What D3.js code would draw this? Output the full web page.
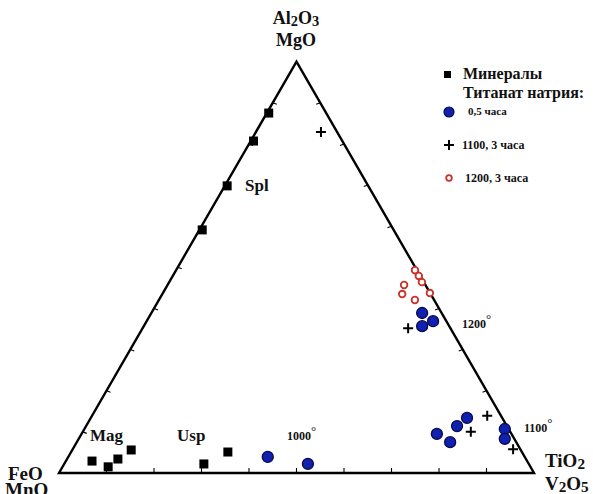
<!DOCTYPE html>
<html><head><meta charset="utf-8">
<script src="https://cdn.jsdelivr.net/npm/d3@7"></script>
<style>body{margin:0;background:#fff}svg{display:block}text{font-family:"Liberation Serif","DejaVu Serif",serif;font-weight:bold;fill:#111}</style>
</head><body><svg id="c" width="593" height="494"></svg>
<script>
// Ternary values as fractions: A = Al2O3+MgO (top), T = TiO2+V2O5 (right), rest = FeO+MnO (left)
const mineralsA = [0.875,0.807,0.698,0.591,0.029,0.015,0.034,0.056,0.022,0.051];
const mineralsT = [0.004,0.006,0.005,0.006,0.055,0.096,0.107,0.124,0.294,0.330];
const blueA = [0.039,0.022,0.095,0.075,0.114,0.134,0.107,0.083,0.389,0.369,0.357];
const blueT = [0.420,0.513,0.748,0.786,0.781,0.792,0.885,0.897,0.570,0.603,0.586];
const crossA = [0.829,0.352,0.139,0.100,0.058];
const crossT = [0.137,0.559,0.832,0.817,0.927];
const redA = [0.493,0.479,0.464,0.457,0.4375,0.435,0.4205];
const redT = [0.503,0.518,0.532,0.498,0.562,0.505,0.539];
const tickFractions = [0.1,0.2,0.3,0.4,0.5,0.6,0.7,0.8,0.9];
const legendLabels = ["Минералы","Титанат натрия:","0,5 часа","1100, 3 часа","1200, 3 часа"];
const fieldLabels = ["Mag","Usp","Spl"];
const tempLabels = ["1000","1100","1200"];

const svg = d3.select("#c");
const xL = 59, xR = 534, yB = 473;
const side = xR - xL, h = side*Math.sqrt(3)/2;
const sx = d3.scaleLinear().domain([0,1]).range([xL,xR]);
const sy = d3.scaleLinear().domain([0,1]).range([yB,yB-h]);
const px = (a,t)=>sx(t + a/2), py = a=>sy(a);

// triangle
svg.append("path")
  .attr("d", d3.line()([[px(0,0),py(0)],[px(0,1),py(0)],[px(1,0),py(1)]]) + "Z")
  .attr("fill","none").attr("stroke","#000").attr("stroke-width",2.4).attr("stroke-linejoin","miter");

// ticks
const tk = svg.append("g").attr("stroke","#000").attr("stroke-width",1.1);
tickFractions.forEach(f=>{
  tk.append("line").attr("x1",px(0,f)).attr("x2",px(0,f)).attr("y1",py(0)).attr("y2",py(0)-5);
  tk.append("line").attr("x1",px(f,0)).attr("x2",px(f,0)+4).attr("y1",py(f)).attr("y2",py(f)+1.5);
  tk.append("line").attr("x1",px(f,1-f)).attr("x2",px(f,1-f)-4).attr("y1",py(f)).attr("y2",py(f)+1.5);
});

// minerals (squares)
svg.append("g").selectAll("rect").data(d3.range(mineralsA.length)).join("rect")
  .attr("x",i=>px(mineralsA[i],mineralsT[i])-4.5).attr("y",i=>py(mineralsA[i])-4.5)
  .attr("width",9).attr("height",9).attr("fill","#000");

// blue circles
svg.append("g").selectAll("circle").data(d3.range(blueA.length)).join("circle")
  .attr("cx",i=>px(blueA[i],blueT[i])).attr("cy",i=>py(blueA[i])).attr("r",5.5)
  .attr("fill","#1020b0").attr("stroke","#0a0a4a").attr("stroke-width",1.3);

// crosses
svg.append("g").selectAll("path").data(d3.range(crossA.length)).join("path")
  .attr("d","M-5,0H5M0,-5V5")
  .attr("transform",i=>`translate(${px(crossA[i],crossT[i])},${py(crossA[i])})`)
  .attr("stroke","#000").attr("stroke-width",2);

// red open circles
svg.append("g").selectAll("circle").data(d3.range(redA.length)).join("circle")
  .attr("cx",i=>px(redA[i],redT[i])).attr("cy",i=>py(redA[i])).attr("r",3.3)
  .attr("fill","#fff").attr("stroke","#c83228").attr("stroke-width",1.8);

// vertex labels
function chem(x,y,parts,anchor,size){
  const t = svg.append("text").attr("x",x).attr("y",y).attr("text-anchor",anchor).attr("font-size",size);
  parts.forEach(p=>{
    if(p[1]) t.append("tspan").attr("font-size",size*0.8).attr("dy",2).text(p[0]);
    else t.append("tspan").attr("dy",p[2]||0).text(p[0]);
  });
  return t;
}
chem(296,24,[["Al"],["2",1],["O",0,-2],["3",1]],"middle",18);
svg.append("text").attr("x",296).attr("y",46).attr("text-anchor","middle").attr("font-size",18).text("MgO");
svg.append("text").attr("x",8).attr("y",480).attr("font-size",19).text("FeO");
svg.append("text").attr("x",5).attr("y",496).attr("font-size",19).text("MnO");
chem(545,467,[["TiO"],["2",1]],"start",19);
chem(545,490,[["V"],["2",1],["O",0,-2],["5",1]],"start",19);

// field labels
svg.append("text").attr("x",90).attr("y",441).attr("font-size",17).text(fieldLabels[0]);
svg.append("text").attr("x",177).attr("y",441).attr("font-size",17).text(fieldLabels[1]);
svg.append("text").attr("x",245).attr("y",191).attr("font-size",17).text(fieldLabels[2]);

// temperature labels
function temp(x,y,s){
  const t = svg.append("text").attr("x",x).attr("y",y).attr("font-size",12);
  t.append("tspan").text(s);
  t.append("tspan").attr("dy",-5).attr("font-size",13).attr("font-weight","normal").text("°");
}
temp(287,440,tempLabels[0]);
temp(524,432,tempLabels[1]);
temp(462,328,tempLabels[2]);

// legend
const lg = svg.append("g");
lg.append("rect").attr("x",444).attr("y",71).attr("width",7).attr("height",7).attr("fill","#000");
lg.append("text").attr("x",463).attr("y",79).attr("font-size",16).text(legendLabels[0]);
lg.append("text").attr("x",463).attr("y",98).attr("font-size",16).text(legendLabels[1]);
lg.append("circle").attr("cx",449).attr("cy",112).attr("r",5).attr("fill","#1020b0").attr("stroke","#0a0a4a").attr("stroke-width",1.2);
lg.append("text").attr("x",468).attr("y",115).attr("font-size",11).text(legendLabels[2]);
lg.append("path").attr("d","M-5,0H5M0,-5V5").attr("transform","translate(449,145)").attr("stroke","#000").attr("stroke-width",2);
lg.append("text").attr("x",462).attr("y",149).attr("font-size",12).text(legendLabels[3]);
lg.append("circle").attr("cx",449).attr("cy",178).attr("r",2.8).attr("fill","#fff").attr("stroke","#c83228").attr("stroke-width",1.8);
lg.append("text").attr("x",465).attr("y",182).attr("font-size",12).text(legendLabels[4]);
</script></body></html>
